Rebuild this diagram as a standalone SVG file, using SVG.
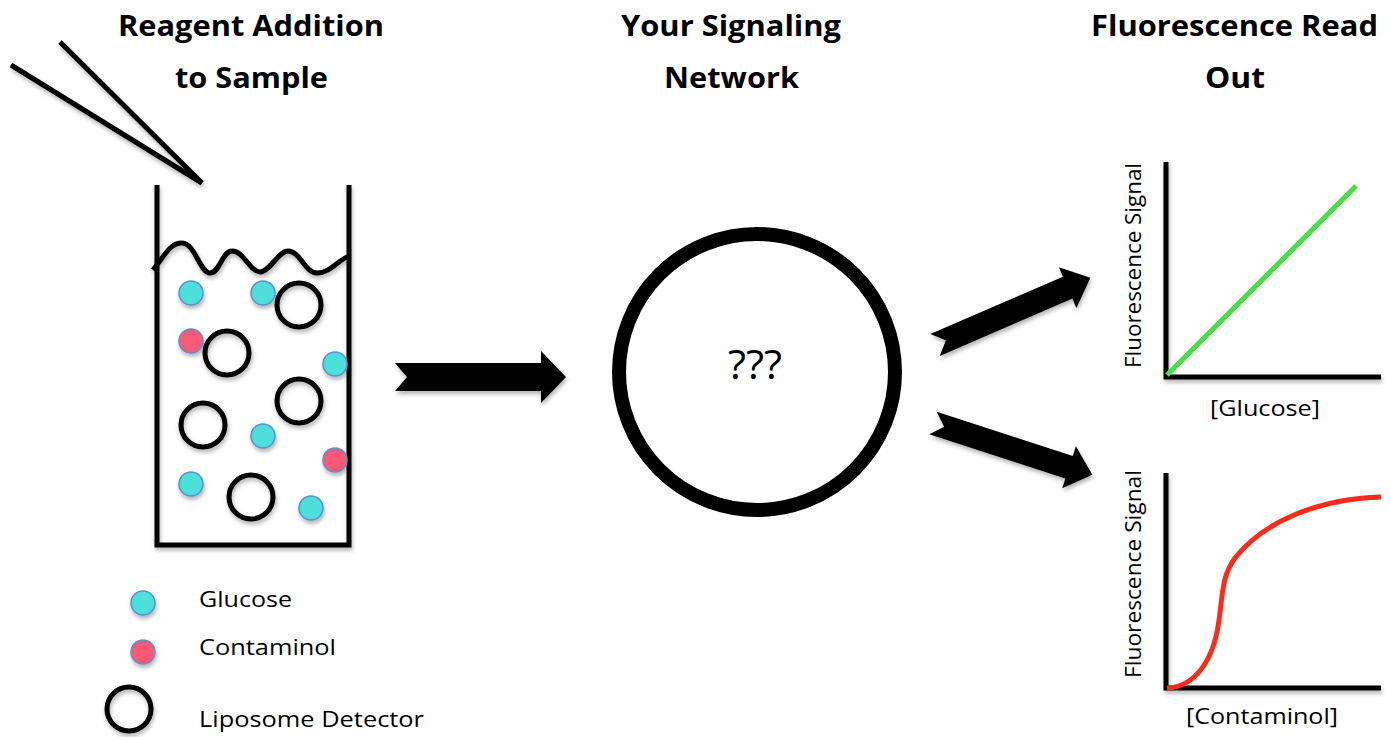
<svg xmlns="http://www.w3.org/2000/svg" xmlns:xlink="http://www.w3.org/1999/xlink" width="1390" height="737" viewBox="0 0 1390 737">
<style>
.title{font-family:"Open Sans","Liberation Sans",sans-serif;font-weight:bold;font-size:28px;fill:#000}
.lbl{font-family:"Open Sans","Liberation Sans",sans-serif;font-size:22px;fill:#000}
.blk{fill:none;stroke:#000;stroke-width:5}
.glu{fill:#4EE0DA;stroke:#5A8FD0;stroke-width:1.5}
.con{fill:#FA5A78;stroke:#5A8FD0;stroke-width:1.5}
.lip{fill:none;stroke:#000;stroke-width:5}
.axis{stroke:#000;stroke-width:5;fill:none}
</style>
<defs>
<filter id="sh" x="-20%" y="-20%" width="140%" height="160%">
<feDropShadow dx="1" dy="3" stdDeviation="2" flood-color="#000" flood-opacity="0.3"/>
</filter>
<path id="arrow" d="M0,-14 L146,-14 L146,-26 L171,0 L146,26 L146,14 L0,14 L12,0 Z" fill="#000"/>
</defs>

<g id="titles">
<text class="title" x="118" y="36" textLength="266" lengthAdjust="spacingAndGlyphs">Reagent Addition</text>
<text class="title" x="175" y="88" textLength="153" lengthAdjust="spacingAndGlyphs">to Sample</text>
<text class="title" x="621" y="36" textLength="220" lengthAdjust="spacingAndGlyphs">Your Signaling</text>
<text class="title" x="664" y="88" textLength="135" lengthAdjust="spacingAndGlyphs">Network</text>
<text class="title" x="1091" y="36" textLength="287" lengthAdjust="spacingAndGlyphs">Fluorescence Read</text>
<text class="title" x="1205" y="88" textLength="60" lengthAdjust="spacingAndGlyphs">Out</text>
</g>

<g id="pipette" filter="url(#sh)">
<line x1="11" y1="65" x2="202" y2="183" stroke="#000" stroke-width="5"/>
<line x1="60" y1="42" x2="202" y2="183" stroke="#000" stroke-width="5"/>
</g>

<g id="beaker" filter="url(#sh)">
<path class="blk" d="M157,185 L157,545 L349,545 L349,185"/>
<path class="blk" d="M153,270 C165,255 170,243 182,243 C195,243 200,273 210,273 C220,273 222,251 232,251 C244,251 250,272 260,272 C270,272 278,251 288,251 C300,251 305,273 317,273 C330,273 338,260 349,256"/>
</g>

<g id="particles" filter="url(#sh)">
<circle class="lip" cx="299" cy="305" r="22"/>
<circle class="lip" cx="227" cy="353" r="22"/>
<circle class="lip" cx="299" cy="401" r="22"/>
<circle class="lip" cx="203" cy="425" r="22"/>
<circle class="lip" cx="251" cy="497" r="22"/>
<circle class="glu" cx="191" cy="293" r="12"/>
<circle class="glu" cx="263" cy="293" r="12"/>
<circle class="glu" cx="335" cy="364" r="12"/>
<circle class="glu" cx="263" cy="436" r="12"/>
<circle class="glu" cx="191" cy="484" r="12"/>
<circle class="glu" cx="311" cy="508" r="12"/>
<circle class="con" cx="191" cy="341" r="12"/>
<circle class="con" cx="335" cy="460" r="12"/>
</g>

<g id="legend">
<circle class="glu" cx="143" cy="603" r="12" filter="url(#sh)"/>
<circle class="con" cx="143" cy="652" r="12" filter="url(#sh)"/>
<circle class="lip" cx="129" cy="709" r="22" filter="url(#sh)"/>
<text class="lbl" x="199" y="607" textLength="93" lengthAdjust="spacingAndGlyphs">Glucose</text>
<text class="lbl" x="199" y="655" textLength="137" lengthAdjust="spacingAndGlyphs">Contaminol</text>
<text class="lbl" x="199" y="727" textLength="225" lengthAdjust="spacingAndGlyphs">Liposome Detector</text>
</g>

<g id="network">
<circle cx="757" cy="372" r="138" fill="none" stroke="#000" stroke-width="14"/>
<text x="728" y="379" font-family="Open Sans, Liberation Sans, sans-serif" font-size="40" textLength="54" lengthAdjust="spacingAndGlyphs">???</text>
</g>

<g id="connectors" filter="url(#sh)">
<use xlink:href="#arrow" href="#arrow" transform="translate(395,377)"/>
<use xlink:href="#arrow" href="#arrow" transform="translate(935,345) rotate(-23.4) scale(0.99,0.85)"/>
<use xlink:href="#arrow" href="#arrow" transform="translate(933,423) rotate(18) scale(0.98,0.85)"/>
</g>

<g id="graph-glucose">
<path class="axis" d="M1166,162 L1166,377 L1381,377" filter="url(#sh)"/>
<line x1="1167" y1="375" x2="1356" y2="186" stroke="#44E044" stroke-width="5"/>
<text class="lbl" transform="translate(1141,368) rotate(-90)" textLength="205" lengthAdjust="spacingAndGlyphs">Fluorescence Signal</text>
<text class="lbl" x="1210" y="416" textLength="110" lengthAdjust="spacingAndGlyphs">[Glucose]</text>
</g>

<g id="graph-contaminol">
<path class="axis" d="M1166,473 L1166,688 L1381,688" filter="url(#sh)"/>
<path d="M1167,688 C1195,687 1214,660 1219,620 C1223,592 1222,576 1235,558 C1265,520 1320,499 1381,497" fill="none" stroke="#FF2A1A" stroke-width="5"/>
<text class="lbl" transform="translate(1141,678) rotate(-90)" textLength="208" lengthAdjust="spacingAndGlyphs">Fluorescence Signal</text>
<text class="lbl" x="1186" y="724" textLength="152" lengthAdjust="spacingAndGlyphs">[Contaminol]</text>
</g>
</svg>
